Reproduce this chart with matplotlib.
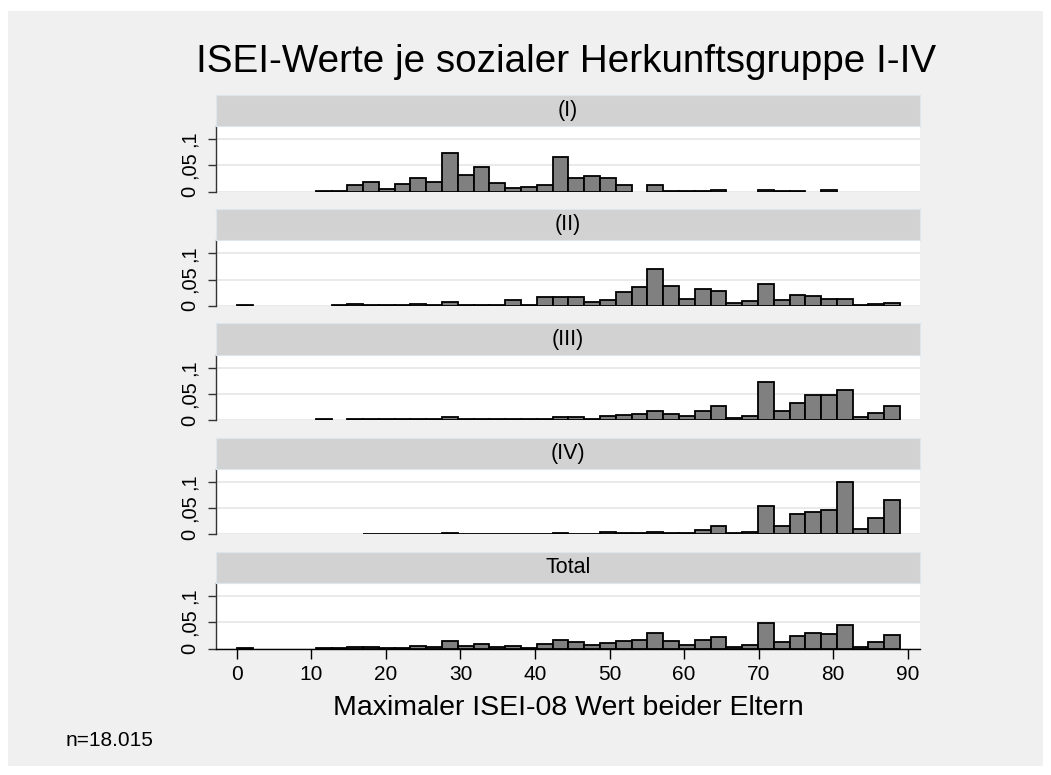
import numpy as np
import matplotlib
matplotlib.use("Agg")
import matplotlib.pyplot as plt
from matplotlib.patches import Rectangle

plt.rcParams['font.family'] = ['Liberation Sans', 'DejaVu Sans']

# histogram: 42 bins from 0 to 88.96 (Stata default), density per bin
bin_lo = 0.0
bin_hi = 88.96
n_bins = 42

groups = ["(I)", "(II)", "(III)", "(IV)", "Total"]

dens_I = [0, 0, 0, 0, 0, 0.0008, 0.0008, 0.0118, 0.0184, 0.004,
          0.0138, 0.0263, 0.0184, 0.0743, 0.0316, 0.0474, 0.0164, 0.0066, 0.0086, 0.0132,
          0.0658, 0.0263, 0.0303, 0.0263, 0.0125, 0, 0.0125, 0.0005, 0.0005, 0.0005,
          0.003, 0, 0, 0.0026, 0.001, 0.001, 0, 0.002, 0, 0,
          0, 0]
dens_II = [0.002, 0, 0, 0, 0, 0, 0.001, 0.003, 0.001, 0.001,
           0.001, 0.003, 0.001, 0.0065, 0.001, 0.001, 0.001, 0.0116, 0.001, 0.016,
           0.016, 0.0174, 0.0065, 0.0116, 0.027, 0.036, 0.0697, 0.0368, 0.0135, 0.032,
           0.0284, 0.0058, 0.0097, 0.042, 0.011, 0.020, 0.0187, 0.0135, 0.0123, 0.001,
           0.004, 0.005]
dens_III = [0, 0, 0, 0, 0, 0.0013, 0, 0.001, 0.001, 0.001,
            0.001, 0.001, 0.001, 0.006, 0.001, 0.001, 0.001, 0.001, 0.001, 0.001,
            0.006, 0.006, 0.0026, 0.0072, 0.0098, 0.0124, 0.0163, 0.0118, 0.0072, 0.0176,
            0.0275, 0.004, 0.0072, 0.0725, 0.0176, 0.032, 0.0477, 0.0477, 0.058, 0.0052,
            0.0137, 0.026]
dens_IV = [0, 0, 0, 0, 0, 0, 0, 0, 0.0008, 0.0008,
           0.0008, 0.0008, 0.0008, 0.0026, 0.0008, 0.0008, 0.0008, 0.0008, 0.0008, 0.0008,
           0.0026, 0.0008, 0.0008, 0.004, 0.002, 0.002, 0.0045, 0.002, 0.002, 0.0084,
           0.0156, 0.002, 0.0052, 0.0545, 0.0156, 0.039, 0.0429, 0.0455, 0.1006, 0.0097,
           0.0318, 0.066]
dens_total = [0.0013, 0, 0, 0, 0, 0.001, 0.001, 0.0026, 0.0026, 0.001,
              0.001, 0.005, 0.003, 0.015, 0.005, 0.0086, 0.003, 0.005, 0.0013, 0.0086,
              0.0164, 0.0118, 0.0072, 0.011, 0.0145, 0.0158, 0.0296, 0.015, 0.0072, 0.017,
              0.0217, 0.0026, 0.0072, 0.048, 0.0125, 0.0243, 0.030, 0.0283, 0.0454, 0.003,
              0.0125, 0.025]

x_ticks = [0, 10, 20, 30, 40, 50, 60, 70, 80, 90]
y_ticks = [0, 0.05, 0.1]
y_ticklabels = ["0", ",05", ",1"]

title = "ISEI-Werte je sozialer Herkunftsgruppe I-IV"
x_title = "Maximaler ISEI-08 Wert beider Eltern"
note = "n=18.015"

W, H = 1051, 775
BG = "#f0f0f0"


def px_rect(left, top, width, height):
    # pixel box (from top-left) -> figure fraction
    return [left / W, 1 - (top + height) / H, width / W, height / H]


def draw_panel(fig, top, label, dens, last):
    ax = fig.add_axes(px_rect(215.5, top, 705, 65.5))
    ax.set_facecolor("white")
    edges = np.linspace(bin_lo, bin_hi, n_bins + 1)
    width = edges[1] - edges[0]
    dens = np.array(dens)
    keep = dens > 0
    ax.bar(edges[:-1][keep], dens[keep], width=width, align="edge",
           color="#808080", edgecolor="black", linewidth=1.3, zorder=3)
    ax.set_xlim(-2.85, 91.7)
    ax.set_ylim(0, 0.125)
    for y in y_ticks:
        ax.axhline(y, color="#e6e6e6", lw=1.2, zorder=1)
    for s in ["top", "right"]:
        ax.spines[s].set_visible(False)
    ax.spines["left"].set_color("#333333")
    ax.spines["left"].set_linewidth(1.0)
    ax.set_yticks(y_ticks)
    ax.set_yticklabels(y_ticklabels, rotation=90, va="center", fontsize=14.5)
    ax.tick_params(axis="y", length=6, width=1, color="#333333", pad=6)
    if last:
        ax.spines["bottom"].set_color("black")
        ax.spines["bottom"].set_linewidth(1.0)
        ax.set_xticks(x_ticks)
        ax.tick_params(axis="x", length=7, width=1, pad=5, labelsize=15)
    else:
        ax.spines["bottom"].set_visible(False)
        ax.set_xticks([])

    # strip with group label
    sx = fig.add_axes(px_rect(215.5, top - 31, 705, 31))
    sx.set_facecolor("#d2d2d2")
    for s in sx.spines.values():
        s.set_color("#dde6ee")
    sx.set_xticks([])
    sx.set_yticks([])
    sx.text(0.5, 0.5, label, ha="center", va="center", fontsize=15.5,
            transform=sx.transAxes)
    return ax


def main():
    fig = plt.figure(figsize=(W / 100, H / 100), dpi=100)
    fig.patch.set_facecolor("white")
    fig.patches.append(Rectangle((8 / W, 9 / H), 1035 / W, 755 / H,
                                 transform=fig.transFigure, facecolor=BG,
                                 edgecolor="none", zorder=-10))

    all_dens = [dens_I, dens_II, dens_III, dens_IV, dens_total]
    for i, (label, dens) in enumerate(zip(groups, all_dens)):
        top = 126 + i * 114.25
        draw_panel(fig, top, label, dens, i == len(groups) - 1)

    fig.text(566 / W, 1 - 72 / H, title, ha="center", va="baseline", fontsize=27.8)
    fig.text(568 / W, 1 - 708 / H, x_title, ha="center", va="center", fontsize=20.5)
    fig.text(66 / W, 1 - 740 / H, note, ha="left", va="center", fontsize=15)

    fig.savefig("out.png", dpi=100, facecolor="white")


if __name__ == "__main__":
    main()
